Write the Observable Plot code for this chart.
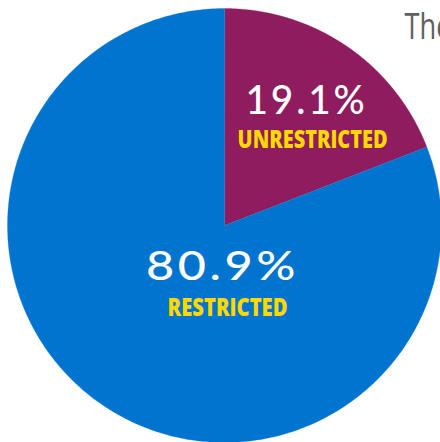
<!DOCTYPE html>
<html>
<head>
<meta charset="utf-8">
<script src="https://cdn.jsdelivr.net/npm/d3@7"></script>
<script src="https://cdn.jsdelivr.net/npm/@observablehq/plot@0.6"></script>
<style>
  html, body { margin: 0; padding: 0; background: #fff; }
  #chart svg { display: block; }
</style>
</head>
<body>
<div id="chart"></div>
<script>
// ---- data ----
const categories = ["Unrestricted", "Restricted"];
const shares = [19.1, 80.9];
const labelNames = ["UNRESTRICTED", "RESTRICTED"];
const colors = ["#8E1C5E", "#0074CF"];
const headText = ["The"];

// ---- build slice outlines from shares (angles clockwise from top) ----
const total = d3.sum(shares);
let acc = 0;
const slicePts = [];
categories.forEach((c, i) => {
  const a0 = acc / total * 2 * Math.PI;
  acc += shares[i];
  const a1 = acc / total * 2 * Math.PI;
  slicePts.push({cat: c, x: 0, y: 0});
  const n = 360;
  for (let k = 0; k <= n; k++) {
    const t = a0 + (a1 - a0) * k / n;
    slicePts.push({cat: c, x: Math.sin(t), y: Math.cos(t)});
  }
});

// label placement (layout, in scale units) and rendered text widths (px)
const layout = {
  Unrestricted: {x: 0.378, y: 0.516, x2: 0.406, y2: 0.359, w: 122, w2: 150},
  Restricted: {x: -0.009, y: -0.253, x2: 0.014, y2: -0.415, w: 153, w2: 120}
};
const labelRows = categories.map((c, i) => ({
  cat: c, pct: `${shares[i]}%`, name: labelNames[i], ...layout[c]
}));

const R = 217, cx = 224, cy = 225;
const chart = Plot.plot({
  width: 440,
  height: 442,
  margin: 0,
  style: {background: "#fff", overflow: "visible"},
  x: {domain: [-1, 1], range: [cx - R, cx + R], axis: null},
  y: {domain: [-1, 1], range: [cy + R, cy - R], axis: null},
  color: {domain: categories, range: colors},
  marks: [
    Plot.line(slicePts, {x: "x", y: "y", z: "cat", fill: "cat", stroke: "cat", strokeWidth: 0.3, curve: "linear-closed"}),
    Plot.text(labelRows, {x: "x", y: "y", text: "pct", fill: "white", fontSize: 41, fontFamily: "Lato, sans-serif", fontWeight: 500, textAnchor: "middle", lineAnchor: "bottom"}),
    Plot.text(labelRows, {x: "x2", y: "y2", text: "name", fill: "#FFD800", fontSize: 24, fontFamily: "'Open Sans', sans-serif", fontWeight: 800, textAnchor: "middle", lineAnchor: "bottom"}),
    Plot.text(headText, {frameAnchor: "top-left", dx: 404, dy: 38, text: d => d, fill: "#606060", fontSize: 36, fontFamily: "'Open Sans', sans-serif", textAnchor: "start", lineAnchor: "bottom"})
  ]
});
// fit text widths: wide figures, condensed capitals
const groups = chart.querySelectorAll("g[aria-label='text']");
groups[0].style.letterSpacing = "3px";
groups[0].querySelectorAll("text").forEach((t, i) => {
  t.setAttribute("textLength", labelRows[i].w);
  t.setAttribute("lengthAdjust", "spacingAndGlyphs");
});
groups[1].querySelectorAll("text").forEach((t, i) => {
  t.setAttribute("textLength", labelRows[i].w2);
  t.setAttribute("lengthAdjust", "spacingAndGlyphs");
});
groups[2].querySelectorAll("text").forEach(t => {
  t.setAttribute("textLength", 47);
  t.setAttribute("lengthAdjust", "spacingAndGlyphs");
});
document.getElementById("chart").appendChild(chart);
</script>
</body>
</html>
